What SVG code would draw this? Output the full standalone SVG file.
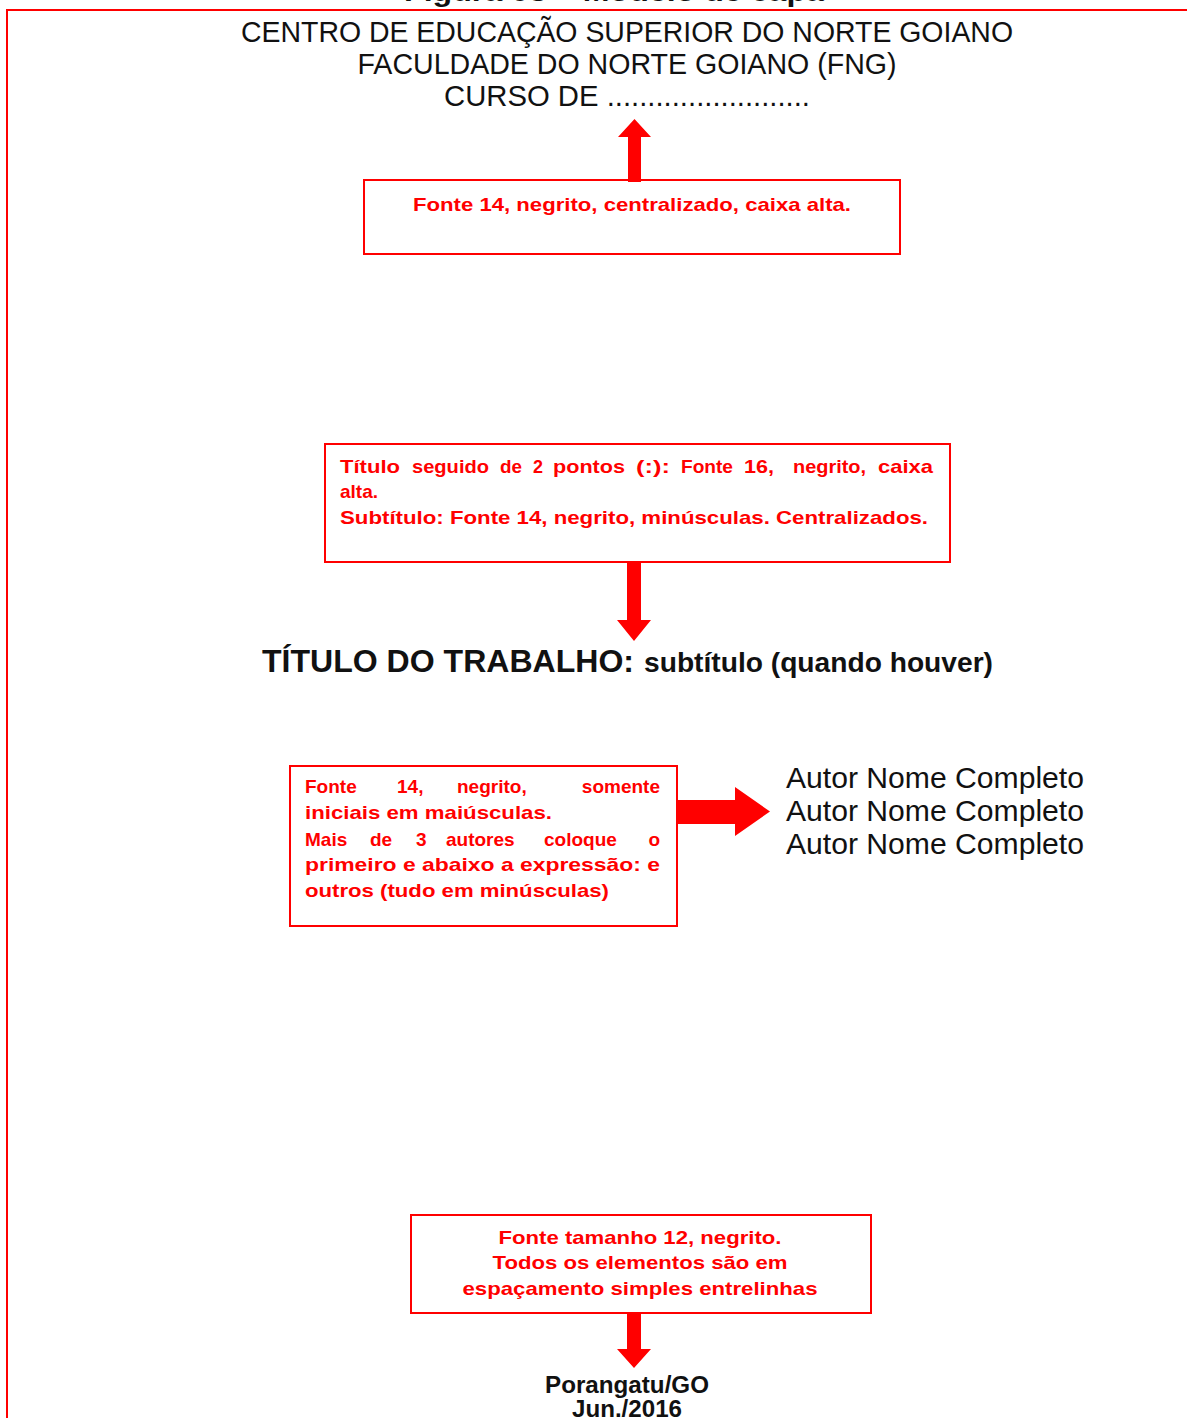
<svg xmlns="http://www.w3.org/2000/svg" width="1187" height="1418" viewBox="0 0 1187 1418">
<style>
.frame{fill:none;stroke:#ff0000;stroke-width:2}
.box{fill:#ffffff;stroke:#ff0000;stroke-width:2}
.arrow{fill:#ff0000;stroke:none}
.note{font-family:"Liberation Sans",Arial,sans-serif;font-weight:bold;font-size:19px;fill:#ff0000}
.hdr{font-family:"Liberation Sans",Arial,sans-serif;font-size:30px;fill:#111111;text-anchor:middle}
.blk{font-family:"Liberation Sans",Arial,sans-serif;fill:#111111}
</style>
<rect width="1187" height="1418" fill="#ffffff"/>
<text x="614" y="1" class="blk" font-size="28" font-weight="bold" text-anchor="middle" textLength="420" lengthAdjust="spacingAndGlyphs">Figura 03 – Modelo de capa</text>
<path class="frame" d="M7,1418 V10 H1187"/>

<g id="header">
<text class="hdr" x="627" y="42" textLength="772" lengthAdjust="spacingAndGlyphs">CENTRO DE EDUCAÇÃO SUPERIOR DO NORTE GOIANO</text>
<text class="hdr" x="627" y="74" textLength="539" lengthAdjust="spacingAndGlyphs">FACULDADE DO NORTE GOIANO (FNG)</text>
<text class="hdr" x="627" y="106" textLength="366" lengthAdjust="spacingAndGlyphs">CURSO DE .........................</text>
</g>

<g id="note1">
<rect class="box" x="364" y="180" width="536" height="74"/>
<text class="note" x="632" y="211" text-anchor="middle" textLength="438" lengthAdjust="spacingAndGlyphs">Fonte 14, negrito, centralizado, caixa alta.</text>
</g>

<g id="note2">
<rect class="box" x="325" y="444" width="625" height="118"/>
<text class="note" x="340" y="473" textLength="60" lengthAdjust="spacingAndGlyphs">Título</text>
<text class="note" x="412" y="473" textLength="77" lengthAdjust="spacingAndGlyphs">seguido</text>
<text class="note" x="500" y="473" textLength="22" lengthAdjust="spacingAndGlyphs">de</text>
<text class="note" x="533" y="473" textLength="10" lengthAdjust="spacingAndGlyphs">2</text>
<text class="note" x="553" y="473" textLength="72" lengthAdjust="spacingAndGlyphs">pontos</text>
<text class="note" x="636" y="473" textLength="34" lengthAdjust="spacingAndGlyphs">(:):</text>
<text class="note" x="681" y="473" textLength="52" lengthAdjust="spacingAndGlyphs">Fonte</text>
<text class="note" x="744" y="473" textLength="30" lengthAdjust="spacingAndGlyphs">16,</text>
<text class="note" x="793" y="473" textLength="73" lengthAdjust="spacingAndGlyphs">negrito,</text>
<text class="note" x="878" y="473" textLength="55" lengthAdjust="spacingAndGlyphs">caixa</text>
<text class="note" x="340" y="498">alta.</text>
<text class="note" x="340" y="524" textLength="588" lengthAdjust="spacingAndGlyphs">Subtítulo: Fonte 14, negrito, minúsculas. Centralizados.</text>
</g>

<g id="title">
<text class="blk" x="262" y="672" font-size="31" font-weight="bold" textLength="372" lengthAdjust="spacingAndGlyphs">TÍTULO DO TRABALHO:</text>
<text class="blk" x="644" y="672" font-size="27" font-weight="bold" textLength="349" lengthAdjust="spacingAndGlyphs">subtítulo (quando houver)</text>
</g>

<g id="note3">
<rect class="box" x="290" y="766" width="387" height="160"/>
<text class="note" x="305" y="793">Fonte</text>
<text class="note" x="397" y="793">14,</text>
<text class="note" x="457" y="793">negrito,</text>
<text class="note" x="660" y="793" text-anchor="end">somente</text>
<text class="note" x="305" y="819" textLength="247" lengthAdjust="spacingAndGlyphs">iniciais em maiúsculas.</text>
<text class="note" x="305" y="846">Mais</text>
<text class="note" x="370" y="846">de</text>
<text class="note" x="416" y="846">3</text>
<text class="note" x="446" y="846">autores</text>
<text class="note" x="544" y="846">coloque</text>
<text class="note" x="660" y="846" text-anchor="end">o</text>
<text class="note" x="305" y="871" textLength="355" lengthAdjust="spacingAndGlyphs">primeiro e abaixo a expressão: e</text>
<text class="note" x="305" y="897" textLength="304" lengthAdjust="spacingAndGlyphs">outros (tudo em minúsculas)</text>
</g>

<g id="authors">
<text class="blk" x="786" y="788" font-size="29" textLength="298" lengthAdjust="spacingAndGlyphs">Autor Nome Completo</text>
<text class="blk" x="786" y="821" font-size="29" textLength="298" lengthAdjust="spacingAndGlyphs">Autor Nome Completo</text>
<text class="blk" x="786" y="854" font-size="29" textLength="298" lengthAdjust="spacingAndGlyphs">Autor Nome Completo</text>
</g>

<g id="note4">
<rect class="box" x="411" y="1215" width="460" height="98"/>
<text class="note" x="640" y="1244" text-anchor="middle" textLength="283" lengthAdjust="spacingAndGlyphs">Fonte tamanho 12, negrito.</text>
<text class="note" x="640" y="1269" text-anchor="middle" textLength="295" lengthAdjust="spacingAndGlyphs">Todos os elementos são em</text>
<text class="note" x="640" y="1295" text-anchor="middle" textLength="355" lengthAdjust="spacingAndGlyphs">espaçamento simples entrelinhas</text>
</g>

<g id="footer">
<text class="blk" x="627" y="1393" font-size="24" font-weight="bold" text-anchor="middle" textLength="164" lengthAdjust="spacingAndGlyphs">Porangatu/GO</text>
<text class="blk" x="627" y="1417" font-size="24" font-weight="bold" text-anchor="middle" textLength="110" lengthAdjust="spacingAndGlyphs">Jun./2016</text>
</g>

<g id="connectors">
<path class="arrow" d="M628,182 V137 H618 L634.5,119 L651,137 H641 V182 Z"/>
<path class="arrow" d="M627,562 V620 H617 L634,641 L651,620 H641 V562 Z"/>
<path class="arrow" d="M677,800 H735 V787 L770,811.5 L735,836 V824 H677 Z"/>
<path class="arrow" d="M627,1313 V1349 H617 L634,1368 L651,1349 H641 V1313 Z"/>
</g>
</svg>
